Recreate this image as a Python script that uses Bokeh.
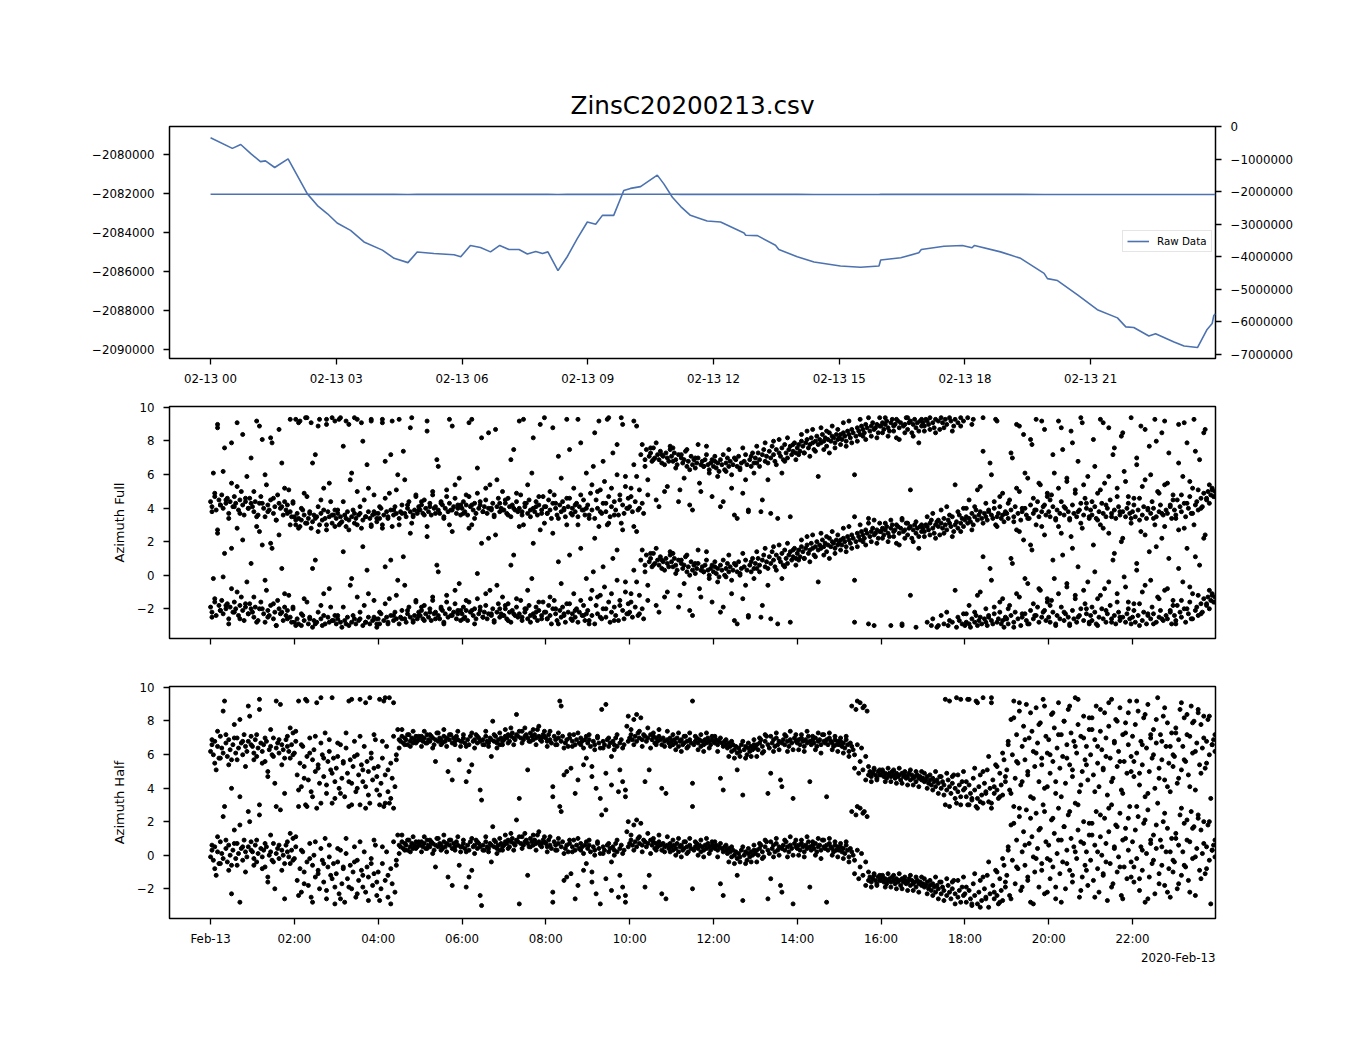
import math
from bokeh.plotting import figure
from bokeh.models import Range1d, LinearAxis, FixedTicker, Legend, LegendItem, Title
from bokeh.layouts import column
from bokeh.embed import file_html
from bokeh.resources import INLINE

FONT = "DejaVu Sans"
BLUE = "#4c72b0"

# ---------------- data ----------------
TITLE = "ZinsC20200213.csv"

RAW_HOURS = [0.00, 0.52, 0.72, 0.96, 1.19, 1.31, 1.53, 1.85, 2.07, 2.31, 2.55, 2.79, 3.02, 3.34,
             3.66, 4.10, 4.38, 4.71, 4.93, 5.33, 5.81, 5.97, 6.20, 6.44, 6.68, 6.90, 7.12, 7.36,
             7.56, 7.76, 7.92, 8.05, 8.29, 8.51, 8.75, 8.99, 9.19, 9.35, 9.62, 9.86, 10.02, 10.26,
             10.66, 10.82, 11.02, 11.22, 11.45, 11.69, 11.85, 12.17, 12.73, 12.77, 13.05, 13.48,
             13.56, 14.00, 14.40, 15.03, 15.51, 15.95, 15.99, 16.47, 16.90, 16.96, 17.50, 17.94,
             18.17, 18.23, 18.85, 19.33, 19.89, 19.97, 20.21, 20.68, 21.16, 21.64, 21.84, 22.03,
             22.39, 22.55, 22.99, 23.23, 23.55, 23.78, 23.90, 23.94, 23.98]
RAW_VALUES = [-2079140, -2079680, -2079480, -2079950, -2080360, -2080320, -2080660, -2080220,
              -2081080, -2082010, -2082610, -2083030, -2083500, -2083880, -2084470, -2084890,
              -2085310, -2085530, -2084990, -2085060, -2085130, -2085230, -2084650, -2084760,
              -2084980, -2084650, -2084860, -2084860, -2085090, -2084960, -2085060, -2084980,
              -2085940, -2085230, -2084300, -2083450, -2083570, -2083110, -2083110, -2081840,
              -2081730, -2081640, -2081050, -2081510, -2082180, -2082660, -2083110, -2083280,
              -2083400, -2083450, -2084010, -2084130, -2084150, -2084640, -2084860, -2085230,
              -2085500, -2085700, -2085770, -2085700, -2085400, -2085280, -2085030, -2084860,
              -2084690, -2084650, -2084770, -2084650, -2084980, -2085310, -2086080, -2086350,
              -2086450, -2087170, -2087940, -2088360, -2088820, -2088850, -2089290, -2089170,
              -2089590, -2089800, -2089880, -2088950, -2088650, -2088240, -2088150]

# azimuth samples (radians, wrapped to [-pi, pi]); each is also drawn +2*pi
AZ_FULL = [
    -1.9,-2.2,-0.2,-1.6,-2.4,2.5,-1.8,-2.1,-1.5,-2.3,1.3,-2.0,-1.7,-2.6,-1.9,-0.8,-2.2,-1.6,-2.0,2.8,-2.4,-1.8,-1.3,-2.1,-2.7,-1.9,-0.4,-2.3,-1.7,-2.0,
    -2.2,-2.5,-1.9,2.9,-2.7,-2.0,-1.6,1.8,-2.3,-2.8,-0.9,-2.1,-2.4,-1.8,1.6,-2.6,-2.2,-3.0,-1.5,-2.0,-2.3,0.4,-2.7,-1.9,-2.4,-2.1,-1.2,-2.5,-2.8,-2.0,
    -2.8,3.0,-2.6,-2.9,2.9,-3.0,-2.4,-2.7,3.1,-1.6,-2.9,-2.5,2.8,-3.1,-2.7,0.9,-2.8,-2.2,3.0,-2.6,-3.0,-1.1,-2.9,2.7,-2.5,-2.8,-1.9,3.1,-2.7,-2.4,
    -2.9,-2.6,3.0,-2.8,-3.1,1.4,-2.7,2.9,-2.5,-3.0,-0.6,-2.8,-2.4,3.1,-2.9,-1.3,-2.7,-2.6,2.8,-3.0,-1.8,-2.8,0.3,-2.5,-2.9,3.0,-2.7,-1.5,-2.6,-2.9,
    -2.6,-2.9,-2.3,3.0,-2.7,0.5,-2.5,-2.8,-1.4,-2.4,2.9,-2.7,-2.2,-2.6,-0.3,-2.9,-2.5,-2.1,1.1,-2.6,-2.8,-2.3,-1.9,-2.5,3.1,-2.7,-2.4,-1.6,-2.6,-2.2,
    -2.4,-2.1,-2.6,-1.8,-2.3,2.9,-2.5,-2.0,-2.7,-1.5,-2.3,-2.2,0.6,-2.4,-2.6,-1.9,-2.1,-2.8,-2.3,-1.2,-2.5,-2.0,-2.4,2.6,-2.2,-1.7,-2.6,-2.3,-0.5,-2.1,
    -2.3,-1.9,-2.5,-2.1,-2.7,-1.6,-2.2,3.0,-2.4,-2.0,-2.6,-1.4,-2.3,-2.1,1.9,-2.5,-2.2,-1.8,-2.6,-2.3,-0.9,-2.4,-2.0,-2.7,2.4,-2.2,-1.7,-2.5,-2.3,-1.3,
    -2.4,-2.0,-2.6,-1.7,-2.2,-2.8,-2.1,1.2,-2.4,-1.9,-2.5,-2.3,-1.5,-2.7,3.0,-2.2,-2.0,-2.6,-1.8,-2.4,-0.2,-2.3,-2.5,-1.9,-2.7,-2.1,2.7,-2.4,-1.6,-2.2,
    -2.2,-2.6,-1.8,-2.4,-2.9,-2.0,-1.5,-2.3,-2.7,0.8,-2.1,-2.5,-1.9,-2.4,-2.8,3.0,-2.2,-1.7,-2.6,-2.3,-1.1,-2.5,-2.0,-2.8,-2.2,1.6,-2.4,-1.8,-2.7,-2.3,
    -2.1,-2.7,-1.4,-2.4,0.2,-2.9,-1.8,-2.3,2.9,-1.2,-2.6,-2.0,-0.7,-2.5,3.0,-1.6,-2.8,-2.2,1.0,-1.9,-2.4,-0.3,-2.7,-1.5,3.1,-2.1,-2.6,-1.0,-2.3,-1.7,
    -2.2,-1.6,-2.5,2.9,-1.9,-0.4,-2.4,-1.2,0.9,-2.0,-2.6,0.6,1.2,-1.5,0.8,1.0,0.5,1.3,0.7,-1.8,0.9,0.6,1.1,0.4,0.8,-1.3,1.0,0.7,0.5,1.2,
    0.8,0.5,1.0,0.6,0.3,0.9,-1.2,0.7,0.4,0.6,1.1,0.2,0.5,-2.1,0.8,0.3,0.6,0.1,0.4,0.7,-0.8,0.3,0.5,0.2,0.6,1.4,0.3,0.0,0.4,-1.6,
    0.2,0.5,0.1,0.4,-0.1,0.6,0.3,-1.9,0.0,0.4,0.7,0.2,0.5,-0.3,0.3,-2.7,0.6,0.2,0.8,0.1,0.4,-1.4,0.5,0.9,0.3,-2.4,0.6,0.2,1.0,0.4,
    0.7,0.4,1.0,0.6,-2.5,0.9,1.2,0.5,0.8,-0.6,1.1,0.7,1.4,0.9,0.5,1.2,-2.9,1.0,0.8,1.3,0.6,1.5,1.0,0.7,1.2,1.4,0.9,1.1,1.6,1.0,
    1.3,1.5,1.1,1.7,1.4,1.0,1.6,1.8,1.3,1.5,1.9,1.6,1.2,1.7,2.0,1.5,1.8,1.6,2.1,1.7,1.9,1.4,1.8,2.2,1.7,2.0,1.9,1.6,2.1,1.8,
    1.9,2.1,1.8,2.2,2.0,1.7,2.3,2.1,1.9,2.4,2.2,-0.3,2.0,2.5,2.3,2.1,2.6,2.4,2.2,2.7,2.5,-2.9,2.3,2.6,2.8,2.4,2.5,2.7,2.2,2.6,
    2.6,2.8,2.4,2.7,2.9,2.5,2.3,2.8,3.0,2.6,2.7,1.9,2.9,2.5,2.8,-3.0,2.6,2.7,3.1,2.4,2.8,2.9,2.2,2.7,3.0,2.5,2.8,1.6,2.9,2.6,
    2.8,2.6,3.0,2.9,2.7,3.1,-3.0,2.8,2.5,3.0,-3.1,2.9,2.4,3.1,2.8,-2.9,3.0,2.7,-3.0,3.1,2.9,-2.8,2.6,3.0,-3.1,2.8,-2.7,3.1,-2.9,2.9,
    -3.0,-2.8,3.1,-2.9,-3.1,-2.6,3.0,-2.8,-2.4,-3.0,-2.7,-1.0,-2.9,3.1,-2.6,-2.8,-3.0,-2.5,0.4,-2.7,-2.9,-2.3,3.0,-2.8,-2.6,-1.6,-2.9,-2.7,-3.1,-2.5,
    -2.6,-2.9,-1.8,-2.4,0.7,-2.8,-2.2,2.7,-2.6,-1.3,-3.0,-2.5,2.1,-2.3,-2.7,-0.5,-2.9,-2.1,1.5,-2.6,-2.4,3.0,-1.9,-2.8,-0.9,-2.5,-2.2,2.4,-2.7,-1.6,
    -2.5,-2.8,-1.5,-2.2,-0.2,-2.9,-2.4,2.9,-2.6,-1.9,1.2,-2.7,-2.3,-0.7,-2.5,-3.0,2.3,-2.1,-2.6,-1.2,-2.8,0.5,-2.4,-2.0,2.8,-2.7,-1.7,-2.3,-0.4,-2.9,
    -2.4,-2.7,1.8,-2.2,-2.9,-1.4,-2.5,3.0,-2.0,-2.6,-0.8,-2.8,-2.3,2.5,-1.8,-2.6,0.9,-2.4,-2.9,-1.1,-2.2,-2.7,2.0,-2.5,-0.1,-2.8,-2.3,-1.6,-2.6,3.1,
    -2.5,-2.1,-2.8,0.3,-2.4,-1.7,2.6,-2.7,-2.2,-0.6,-2.9,-2.4,1.4,-2.6,-1.9,-2.3,3.0,-2.8,-1.3,-2.5,-2.1,2.2,-2.7,-0.9,-2.4,-2.6,1.0,-2.2,-2.9,-1.5,
    -2.4,-2.7,-1.8,2.7,-2.2,-2.5,-0.4,-2.0,-2.8,1.6,-2.3,-1.6,-2.6,-1.1,3.0,-2.1,-1.9,-2.4,0.6,-1.7,-2.2,-1.4,2.4,-1.8,-1.3,-2.0,-1.5,-1.2,-1.6,-1.3,
]

# second, interleaved set of samples for the same channel
AZ_FULL_B = [
    -2.5,-1.4,2.7,-2.1,-0.1,-1.8,-2.9,1.6,-2.2,-1.0,-2.6,2.1,-1.7,-2.3,0.7,
    -1.3,-2.8,2.6,-2.0,-0.3,-2.5,1.9,-1.7,-3.0,2.4,-2.2,-1.1,-2.6,3.0,-1.9,
    -3.0,2.8,-2.3,-1.4,3.1,-2.6,0.4,-2.9,2.6,-1.8,-2.4,3.0,-0.8,-2.7,2.9,
    -2.4,3.1,-1.9,-2.9,2.7,-0.2,-2.6,3.0,-2.2,1.7,-2.8,-1.1,2.9,-2.5,-3.1,
    -2.2,2.8,-1.7,-2.9,0.9,-2.4,-1.2,3.0,-2.6,-0.6,-2.1,2.5,-2.8,-1.5,-2.4,
    -1.9,-2.7,2.3,-2.2,-1.3,-2.6,0.2,-2.0,-2.9,-1.6,3.0,-2.4,-0.9,-2.1,-2.7,
    -2.6,-1.5,2.8,-2.1,-2.9,0.1,-1.9,-2.5,-1.1,2.2,-2.3,-2.8,-0.6,-2.0,-2.4,
    -1.8,-2.7,0.6,-2.3,-1.4,2.9,-2.5,-2.0,-0.9,-2.8,1.9,-2.2,-1.6,-2.6,3.1,
    -2.6,-1.3,2.5,-2.0,-2.9,-0.5,-2.3,-1.7,1.2,-2.7,-2.1,3.0,-1.5,-2.4,-0.2,
    -2.9,-0.9,2.2,-1.3,-2.5,0.5,-2.0,3.1,-1.1,-2.7,1.5,-1.8,2.7,-0.4,-2.3,
    -1.1,0.3,2.6,-2.3,1.5,0.2,-0.6,1.3,0.6,1.6,-2.2,0.9,0.3,-1.0,1.4,
    1.3,0.1,-1.9,0.9,-0.5,1.2,0.0,-2.4,0.7,1.5,-1.3,0.2,0.9,-0.2,0.6,
    0.8,-0.4,-2.2,0.9,-0.1,1.2,-1.1,0.7,-2.9,0.0,1.3,-0.6,-2.5,0.8,-0.2,
    1.4,0.2,-1.8,1.6,0.4,-2.6,1.7,0.3,1.8,-0.2,0.5,1.9,-2.8,1.5,0.6,
    0.9,2.1,1.0,2.3,0.8,2.4,1.1,-0.4,2.5,1.2,2.3,1.0,2.6,1.3,2.4,
    1.5,2.8,1.4,2.9,1.6,-2.8,1.7,3.0,2.0,1.8,3.1,2.0,-3.0,1.9,3.1,
    2.2,3.1,2.0,-3.0,2.3,3.0,1.8,-2.9,2.2,3.1,-1.2,2.0,-3.1,2.3,3.0,
    2.3,-2.8,2.4,-2.6,2.2,-3.0,-2.4,2.5,-2.2,-2.7,2.3,-0.9,-2.5,2.6,-2.3,
    -2.3,-1.8,2.7,-2.2,-1.2,-2.5,1.1,-2.0,-2.4,-0.3,-1.9,2.9,-2.2,-1.4,-2.6,
    -2.0,1.0,-3.1,-1.1,2.6,-2.3,-0.2,-2.9,1.8,-1.7,-2.4,-0.8,2.9,-2.1,-1.4,
    -1.8,0.9,-3.0,-1.1,2.5,-2.2,-0.5,-2.9,1.6,-1.4,-2.5,3.1,-0.9,-2.0,-2.8,
    -1.9,0.2,-3.0,-1.2,2.8,-2.1,-0.4,-2.8,1.3,-1.6,-2.5,2.2,-0.7,-2.0,-2.9,
    -1.7,0.7,-3.0,-1.0,2.4,-2.3,-0.3,-2.9,1.7,-1.4,-2.6,2.9,-0.8,-2.1,-1.8,
    -2.9,0.4,-1.5,2.8,-2.0,-0.7,-2.6,1.1,-1.2,-2.3,2.2,-1.7,-0.9,-1.1,-1.6,
]

AZ_HALF = [
    -0.1,0.3,-0.3,0.5,-1.2,0.2,-0.5,0.8,0.1,-0.2,2.9,0.4,-0.4,0.6,0.0,-0.6,0.3,1.5,-0.2,0.7,0.1,-2.8,0.4,-0.3,0.9,0.2,-0.1,0.5,2.0,0.3,
    0.2,-0.2,0.6,-0.4,0.1,3.0,0.4,-0.1,0.3,-0.7,0.5,-1.6,0.0,0.2,-0.3,0.7,-2.0,0.1,0.4,-0.2,2.7,0.3,0.0,-0.5,0.6,0.2,-0.1,1.3,0.3,-0.3,
    -0.2,0.5,-1.5,2.9,-0.8,-2.2,0.2,-1.0,3.0,-0.4,-1.8,0.7,-2.5,-0.6,0.0,-1.3,2.8,-0.9,-2.0,0.4,-0.3,-1.6,1.0,-2.6,-0.7,-0.1,-1.2,3.1,-0.5,-1.9,
    -1.1,-0.4,-2.3,0.3,-1.7,-0.8,-2.8,0.1,-1.4,2.9,-0.6,-2.0,-1.0,0.5,-2.5,-0.3,-1.5,3.0,-0.9,-1.9,0.2,-2.2,-0.7,-1.3,3.1,-0.2,-1.8,-1.1,0.6,-2.4,
    -1.0,3.0,-2.0,-0.5,2.9,-1.5,0.2,-2.5,3.1,-0.8,-1.7,0.8,-2.2,-0.3,1.2,0.6,0.5,0.8,0.4,0.7,0.6,0.3,0.9,0.5,0.7,0.4,0.6,0.8,0.5,0.7,
    0.6,0.8,0.5,0.7,0.4,0.9,0.6,0.5,0.8,0.7,0.3,0.6,1.0,0.5,0.7,0.6,0.4,0.8,0.5,0.7,-1.3,0.6,0.9,0.4,0.7,0.5,0.8,0.6,-0.6,0.5,
    0.5,0.7,0.4,-1.9,0.6,0.3,0.8,-0.9,0.5,0.6,0.9,0.4,0.7,0.5,-3.0,0.6,0.3,0.8,0.5,0.4,0.7,0.6,1.7,0.5,0.8,0.4,0.6,0.3,0.7,0.5,
    0.6,0.8,0.7,0.9,0.5,0.8,1.0,0.7,0.6,0.9,0.8,-2.9,0.7,1.1,0.6,0.8,0.9,0.7,0.5,1.0,0.8,0.6,0.9,0.7,1.2,0.8,0.6,0.7,0.9,0.8,
    0.7,0.5,0.9,0.6,0.4,-2.8,0.8,0.6,0.3,0.7,2.9,0.5,0.8,-1.5,0.4,0.6,0.2,0.7,-1.1,0.5,0.9,0.3,0.6,-1.8,0.4,0.7,0.5,0.1,0.6,-0.5,
    0.4,0.6,0.2,-1.0,0.5,0.3,-2.3,0.7,0.4,0.1,2.4,0.5,0.3,-1.4,0.6,0.2,0.4,-0.4,0.5,0.3,0.7,0.2,-2.5,0.4,0.6,-1.9,0.3,-2.8,1.4,0.5,
    0.7,0.9,0.6,1.8,0.8,0.5,1.0,0.7,1.9,0.6,0.9,0.8,0.5,0.7,-1.2,0.9,0.6,0.8,0.4,0.7,0.5,0.8,0.6,0.3,0.7,0.5,-2.6,0.6,0.4,0.7,
    0.5,0.3,0.6,0.4,0.7,0.2,0.5,0.6,0.3,0.4,0.8,0.5,0.2,0.6,0.4,2.9,0.3,0.5,0.7,0.4,0.6,0.2,0.5,0.3,0.6,0.4,0.7,0.5,0.3,0.6,
    0.5,0.4,0.6,0.3,0.5,-1.7,0.4,0.2,0.5,0.3,0.1,0.4,0.2,-0.1,0.3,0.0,0.2,-0.2,0.1,-0.1,0.3,-2.7,0.0,0.2,-0.3,0.1,-0.1,0.2,0.0,0.3,
    0.1,0.3,0.0,0.4,0.6,0.2,-0.1,0.5,0.8,0.3,0.1,-1.4,0.4,0.6,0.2,0.7,0.3,0.5,-1.8,0.4,0.6,0.3,0.8,0.5,0.2,0.6,0.4,-2.9,0.7,0.5,
    0.4,0.6,0.3,0.7,0.5,0.2,0.6,0.4,0.8,0.5,0.3,0.6,0.4,0.7,0.2,0.5,0.6,0.3,0.9,0.5,0.4,0.6,0.3,0.7,0.5,0.4,0.2,0.6,0.3,0.5,
    0.3,0.5,0.2,0.4,0.1,0.6,0.3,-0.1,0.4,0.2,0.0,-0.3,2.4,0.3,-1.4,2.8,0.1,-1.2,2.6,-0.4,2.3,-1.5,-1.3,-1.6,-1.4,-1.2,-1.5,-1.7,-1.3,-1.5,
    -1.5,-1.3,-1.6,-1.4,-1.7,-1.5,-1.4,-1.6,-1.3,-1.5,-1.7,-1.4,-1.6,-1.5,-1.8,-1.4,-1.6,-1.5,-1.7,-1.6,-1.4,-1.8,-1.5,-1.7,-1.6,-1.9,-1.5,-1.7,-1.6,-1.8,
    -1.7,-1.9,-1.8,-1.6,-2.0,-1.8,-2.1,-1.7,-1.9,-2.2,-1.8,-2.0,-1.6,-2.3,-1.9,-2.1,3.0,-2.4,-1.8,-2.2,-2.6,-2.0,-1.5,-2.3,3.1,-2.5,-2.1,-2.8,-1.9,-2.4,
    -2.3,-2.8,3.0,-2.1,-2.6,-3.0,-1.7,-2.4,2.9,-2.9,-2.2,-1.5,-2.7,3.1,-2.0,-2.5,-1.2,-3.1,-2.3,2.8,-1.8,-2.6,-0.9,-2.4,-2.9,-1.4,-2.1,-2.7,-0.6,-1.6,
    -1.2,0.5,-2.4,1.8,-0.3,2.9,-1.7,0.9,-0.8,2.3,-2.1,0.2,1.4,-0.6,2.7,-1.5,0.7,-2.8,1.1,-0.1,-1.0,2.5,0.4,-1.9,1.6,-0.5,3.0,-2.3,0.8,-0.2,
    0.6,-1.4,2.1,-0.7,1.3,-2.6,0.1,2.8,-1.1,0.9,-0.4,1.7,-2.0,0.3,2.4,-0.9,1.0,-1.6,0.5,3.1,-0.2,1.5,-2.5,0.8,-1.3,2.0,-0.6,0.2,-1.8,1.2,
    -0.3,1.9,-1.5,0.6,2.6,-0.8,-2.2,1.1,0.0,-1.2,2.2,0.7,-2.7,1.4,-0.5,3.0,-1.7,0.4,1.8,-1.0,-0.1,2.5,-2.4,0.9,-0.7,1.6,-1.4,0.3,2.9,-0.4,
    0.8,-1.6,1.5,-0.2,2.3,-2.1,0.5,-0.9,1.9,-2.8,0.1,2.7,-1.3,0.7,-0.5,1.2,-2.3,0.4,3.1,-1.1,0.9,-0.6,2.0,-1.8,0.2,1.6,-0.8,-2.5,1.0,-0.3,
    -0.4,1.3,-2.0,0.6,2.4,-1.2,0.2,1.9,-0.7,2.1,-1.5,0.8,2.6,-0.2,1.7,-2.4,0.4,2.2,-0.9,1.5,0.1,2.0,-1.1,0.5,1.8,-0.3,-2.9,0.3,0.6,-0.1,
]

AZ_HALF_B = [
    0.6,-0.8,1.1,-0.5,2.3,0.9,-0.9,-2.3,0.7,-0.6,1.8,0.5,-1.0,2.6,0.8,
    -0.6,0.9,2.4,-0.8,0.7,-1.3,1.2,-0.4,2.9,0.6,-0.9,-2.6,0.8,-0.5,1.0,
    1.1,-2.4,0.3,-1.7,2.9,-0.2,-2.8,0.8,-1.1,3.1,-0.5,-2.1,0.6,-1.4,-2.9,
    0.4,-2.6,-0.7,1.0,-1.9,3.0,-0.4,-2.3,0.8,-1.2,2.8,-2.7,-0.5,0.9,-1.6,
    -2.7,0.5,3.1,-1.2,-2.9,2.8,-0.6,0.1,1.2,0.3,0.9,0.2,1.1,0.4,0.8,
    0.2,1.1,0.4,0.9,0.1,-0.7,1.0,0.3,1.2,0.2,0.9,-1.8,0.3,1.1,0.2,
    0.9,0.2,-1.3,1.0,0.1,0.8,-2.4,0.3,1.1,0.2,-0.4,0.9,0.1,1.0,0.3,
    1.2,0.4,1.3,0.3,2.1,1.1,0.4,1.3,-1.2,0.5,1.2,0.3,1.4,0.5,1.1,
    0.2,1.1,-2.2,0.3,1.0,2.6,0.1,-1.3,0.9,0.2,-2.6,1.0,0.3,-0.9,0.8,
    0.9,-1.6,0.0,0.8,-2.9,0.1,2.7,0.7,-2.1,0.0,0.9,-1.2,0.1,-2.4,2.0,
    1.2,0.3,2.1,1.1,0.2,-1.9,1.3,0.1,1.0,0.3,1.2,-2.3,0.2,1.1,0.2,
    0.9,0.0,1.0,-0.1,0.8,0.1,1.0,-2.0,0.8,0.0,0.9,-0.1,1.0,0.1,0.8,
    0.8,-0.1,0.7,-2.4,0.6,-0.4,0.5,-0.5,-1.2,-0.4,0.5,-0.5,0.4,-0.4,0.6,
    -0.4,0.7,-0.2,0.9,-2.6,0.8,-0.1,1.0,0.0,-2.2,0.9,-0.1,1.1,0.0,0.9,
    0.0,0.9,-0.1,1.1,-1.9,0.8,0.0,1.0,-0.2,0.9,-2.8,1.0,0.0,0.8,-0.1,
    0.7,-0.2,0.8,-0.4,2.6,-1.1,2.9,-0.7,2.5,-1.8,-1.0,-1.9,-1.1,-1.8,-1.2,
    -1.2,-1.9,-1.1,-1.9,-1.2,-2.0,-1.1,-2.0,-1.3,-2.1,-1.2,-2.1,-1.3,-2.2,-1.3,
    -1.4,-2.3,-1.5,-2.4,-1.3,-2.6,-1.6,-2.7,-1.4,2.9,-1.6,-2.9,-1.5,3.0,-1.3,
    -1.9,3.0,-2.9,-1.1,2.8,-3.1,-1.3,-2.6,-0.4,3.1,-2.2,-1.0,-2.8,-0.2,-1.9,
    0.3,-2.6,1.9,-0.7,2.8,-1.9,0.6,-1.3,2.2,-2.9,-0.2,1.5,-0.9,2.6,-2.2,
    -0.3,2.2,-1.9,0.9,-2.8,1.7,-0.5,2.6,-1.2,0.2,3.0,-2.1,0.7,-0.9,1.9,
    1.2,-2.5,0.2,2.4,-1.1,-0.4,2.8,-1.9,0.5,1.7,-0.7,-2.6,1.0,2.2,-1.3,
    -0.7,2.9,-1.4,0.3,2.1,-2.6,0.9,-0.3,1.8,-1.7,0.5,2.5,-2.2,0.2,-1.0,
    1.0,-1.7,2.8,-0.6,0.9,-2.2,1.6,-0.1,2.4,-1.4,0.7,-0.8,2.0,0.3,0.9,
]

TOP_TICKS = [0, 3, 6, 9, 12, 15, 18, 21]
TOP_TICK_LABELS = ["02-13 00", "02-13 03", "02-13 06", "02-13 09",
                   "02-13 12", "02-13 15", "02-13 18", "02-13 21"]
BOTTOM_TICKS = [0, 2, 4, 6, 8, 10, 12, 14, 16, 18, 20, 22]
BOTTOM_TICK_LABELS = ["Feb-13", "02:00", "04:00", "06:00", "08:00", "10:00",
                      "12:00", "14:00", "16:00", "18:00", "20:00", "22:00"]
DATE_OFFSET_LABEL = "2020-Feb-13"
RAW_LEFT_TICKS = [-2090000, -2088000, -2086000, -2084000, -2082000, -2080000]
RAW_RIGHT_TICKS = [-7000000, -6000000, -5000000, -4000000, -3000000, -2000000, -1000000, 0]
AZ_TICKS = [-2, 0, 2, 4, 6, 8, 10]

X_START, X_END = -0.98, 23.98


def minus(v):
    return str(v).replace("-", "\u2212")


def hours_for(vals, shift=0.0):
    n = len(vals)
    return [(i + shift) * 24.0 / n for i in range(n)]


def base_style(p):
    p.xgrid.visible = False
    p.ygrid.visible = False
    p.outline_line_color = "black"
    p.outline_line_width = 1.5
    p.background_fill_color = "white"
    p.border_fill_color = "white"
    for ax in p.axis:
        ax.axis_line_color = None
        ax.major_tick_line_color = "black"
        ax.major_tick_line_width = 1.3
        ax.major_tick_out = 6
        ax.major_tick_in = 0
        ax.minor_tick_line_color = None
        ax.major_label_text_font = FONT
        ax.major_label_text_font_size = "11.8px"
        ax.major_label_text_color = "black"
        ax.axis_label_text_font = FONT
        ax.axis_label_text_font_size = "13px"
        ax.axis_label_text_font_style = "normal"
        ax.axis_label_text_color = "black"
    for ax in p.xaxis:
        ax.major_label_standoff = 7
    for ax in p.yaxis:
        ax.major_label_standoff = 9


COMMON = dict(frame_width=1046, frame_height=232, output_backend="svg",
              toolbar_location=None, min_border_left=169, min_border_right=127)

# ---------------- top panel ----------------
p1 = figure(x_range=Range1d(X_START, X_END), y_range=Range1d(-2090440, -2078560),
            min_border_top=126, min_border_bottom=32, title=TITLE, **COMMON)
p1.extra_y_ranges = {"right": Range1d(-7123000, 0)}
p1.add_layout(LinearAxis(y_range_name="right"), "right")
p1.title.text_font = FONT
p1.title.text_font_size = "24.7px"
p1.title.text_font_style = "normal"
p1.title.text_color = "black"
p1.title.align = "center"
p1.title.standoff = 13

r_raw = p1.line(RAW_HOURS, RAW_VALUES, line_color=BLUE, line_width=1.6)
p1.line(RAW_HOURS, RAW_VALUES, line_color=BLUE, line_width=1.6, y_range_name="right")

base_style(p1)
p1.xaxis.ticker = FixedTicker(ticks=TOP_TICKS)
p1.xaxis.major_label_overrides = {t: s for t, s in zip(TOP_TICKS, TOP_TICK_LABELS)}
left_ax = p1.left[0]
left_ax.ticker = FixedTicker(ticks=RAW_LEFT_TICKS)
left_ax.major_label_overrides = {t: minus(t) for t in RAW_LEFT_TICKS}
right_ax = p1.right[0]
right_ax.ticker = FixedTicker(ticks=RAW_RIGHT_TICKS)
right_ax.major_label_overrides = {t: minus(t) for t in RAW_RIGHT_TICKS}

legend = Legend(items=[LegendItem(label="Raw Data", renderers=[r_raw])],
                location=(953, 106), orientation="vertical",
                label_text_font=FONT, label_text_font_size="10.3px",
                label_text_color="black",
                glyph_width=22, glyph_height=12, label_standoff=8,
                padding=4, margin=0, spacing=0,
                border_line_color="#cccccc", border_line_width=1.2,
                background_fill_color="white", background_fill_alpha=0.8)
p1.add_layout(legend)


def add_azimuth(p, vals, shift):
    t = hours_for(vals, shift)
    p.scatter(t, vals, size=4, color="black")
    p.scatter(t, [v + 2 * math.pi for v in vals], size=4, color="black")


# ---------------- middle panel ----------------
p2 = figure(x_range=Range1d(X_START, X_END), y_range=Range1d(-3.77, 10.05),
            min_border_top=16, min_border_bottom=32, **COMMON)
add_azimuth(p2, AZ_FULL, 0.0)
add_azimuth(p2, AZ_FULL_B, 0.5)
base_style(p2)
p2.xaxis.ticker = FixedTicker(ticks=BOTTOM_TICKS)
p2.xaxis.major_label_overrides = {t: "" for t in BOTTOM_TICKS}
p2.yaxis.ticker = FixedTicker(ticks=AZ_TICKS)
p2.yaxis.major_label_overrides = {t: minus(t) for t in AZ_TICKS}
p2.yaxis.axis_label = "Azimuth Full"
p2.yaxis.axis_label_standoff = 7

# ---------------- bottom panel ----------------
p3 = figure(x_range=Range1d(X_START, X_END), y_range=Range1d(-3.77, 10.05),
            min_border_top=16, min_border_bottom=60, **COMMON)
add_azimuth(p3, AZ_HALF, 0.0)
add_azimuth(p3, AZ_HALF_B, 0.5)
base_style(p3)
p3.xaxis.ticker = FixedTicker(ticks=BOTTOM_TICKS)
p3.xaxis.major_label_overrides = {t: s for t, s in zip(BOTTOM_TICKS, BOTTOM_TICK_LABELS)}
p3.yaxis.ticker = FixedTicker(ticks=AZ_TICKS)
p3.yaxis.major_label_overrides = {t: minus(t) for t in AZ_TICKS}
p3.yaxis.axis_label = "Azimuth Half"
p3.yaxis.axis_label_standoff = 7
p3.add_layout(Title(text=DATE_OFFSET_LABEL, align="right", text_font=FONT,
                    text_font_size="11.8px", text_font_style="normal",
                    text_color="black", standoff=0), "below")

layout = column(p1, p2, p3)
open("out.html", "w").write(file_html(layout, INLINE))
